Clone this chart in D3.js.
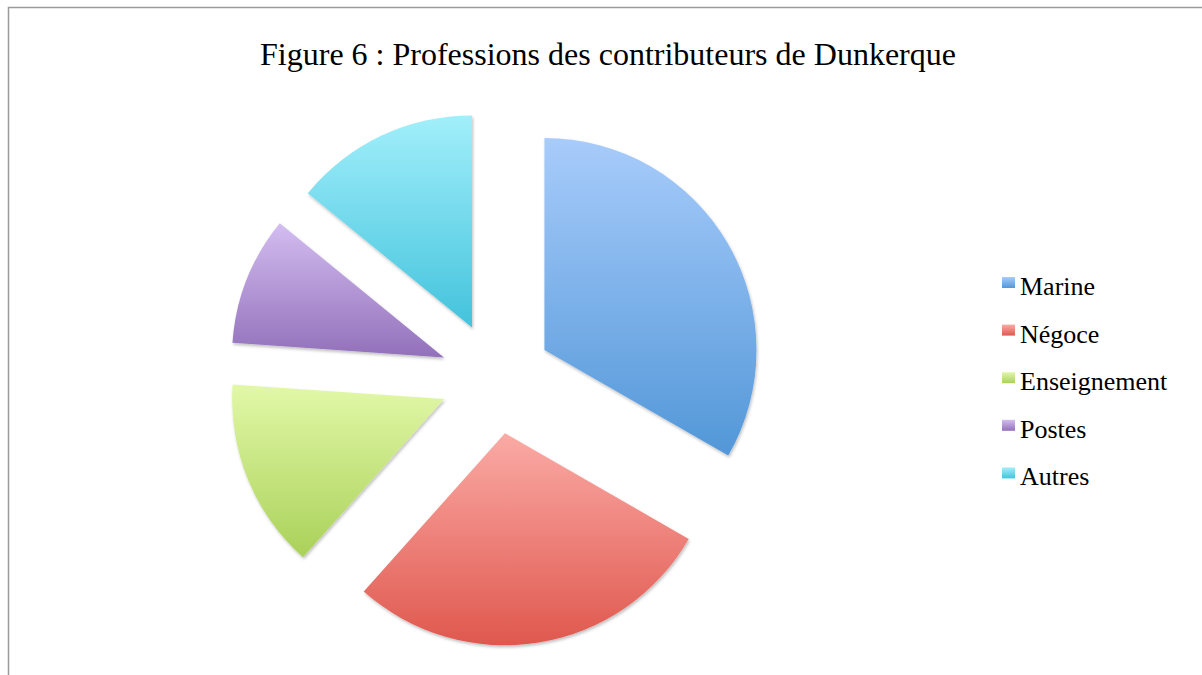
<!DOCTYPE html>
<html>
<head>
<meta charset="utf-8">
<script src="https://cdn.jsdelivr.net/npm/d3@7"></script>
<style>
  body { margin: 0; background: #fff; }
  svg { display: block; }
</style>
</head>
<body>
<div id="chart"></div>
<script>
// data
const categories = ["Marine", "Négoce", "Enseignement", "Postes", "Autres"];
const values = [33.3, 28.3, 14.5, 9.8, 14.1];
const topColors = ["#a8ccfb", "#fbaaa5", "#e2f8a8", "#d3bdf0", "#a2effb"];
const bottomColors = ["#5297d8", "#df584e", "#aad159", "#9270ba", "#43c3dc"];
const title = "Figure 6 : Professions des contributeurs de Dunkerque";

const width = 1202, height = 675;
const cx = 496, cy = 378, radius = 212, explode = 56;

const svg = d3.select("#chart").append("svg")
    .attr("width", width)
    .attr("height", height);

const defs = svg.append("defs");

// one vertical gradient per slice
categories.forEach((c, i) => {
    const g = defs.append("linearGradient")
        .attr("id", "grad" + i)
        .attr("x1", 0).attr("y1", 0)
        .attr("x2", 0).attr("y2", 1);
    g.append("stop").attr("offset", "0%").attr("stop-color", topColors[i]);
    g.append("stop").attr("offset", "100%").attr("stop-color", bottomColors[i]);
});

const shadow = defs.append("filter").attr("id", "shadow")
    .attr("x", "-10%").attr("y", "-10%").attr("width", "120%").attr("height", "120%");
shadow.append("feDropShadow")
    .attr("dx", 1).attr("dy", 2).attr("stdDeviation", 1.5)
    .attr("flood-color", "#000").attr("flood-opacity", 0.25);

// frame (only left and top edges visible)
svg.append("path")
    .attr("d", `M8.5,${height} L8.5,7.5 L${width},7.5`)
    .attr("fill", "none")
    .attr("stroke", "#9a9a9a")
    .attr("stroke-width", 1.5);

svg.append("text")
    .attr("x", 608)
    .attr("y", 65)
    .attr("text-anchor", "middle")
    .style("font-family", "'Liberation Serif', 'Times New Roman', serif")
    .style("font-size", "32px")
    .attr("fill", "#000")
    .text(title);

const pie = d3.pie().sort(null).value(d => d);
const arc = d3.arc().innerRadius(0).outerRadius(radius);

svg.append("g")
    .attr("transform", `translate(${cx},${cy})`)
    .selectAll("path")
    .data(pie(values))
    .join("path")
    .attr("d", arc)
    .attr("fill", (d, i) => `url(#grad${i})`)
    .attr("filter", "url(#shadow)")
    .attr("transform", d => {
        const mid = (d.startAngle + d.endAngle) / 2;
        return `translate(${explode * Math.sin(mid)},${-explode * Math.cos(mid)})`;
    });

// legend
const legend = svg.append("g").attr("transform", "translate(1002,295)");
const rowH = 47.6;

const items = legend.selectAll("g")
    .data(categories)
    .join("g")
    .attr("transform", (d, i) => `translate(0,${i * rowH})`);

items.append("rect")
    .attr("x", 0).attr("y", -18)
    .attr("width", 13).attr("height", 11)
    .attr("fill", (d, i) => `url(#grad${i})`);

items.append("text")
    .attr("x", 18)
    .attr("y", 0)
    .style("font-family", "'Liberation Serif', 'Times New Roman', serif")
    .style("font-size", "26px")
    .attr("fill", "#000")
    .text(d => d);
</script>
</body>
</html>
